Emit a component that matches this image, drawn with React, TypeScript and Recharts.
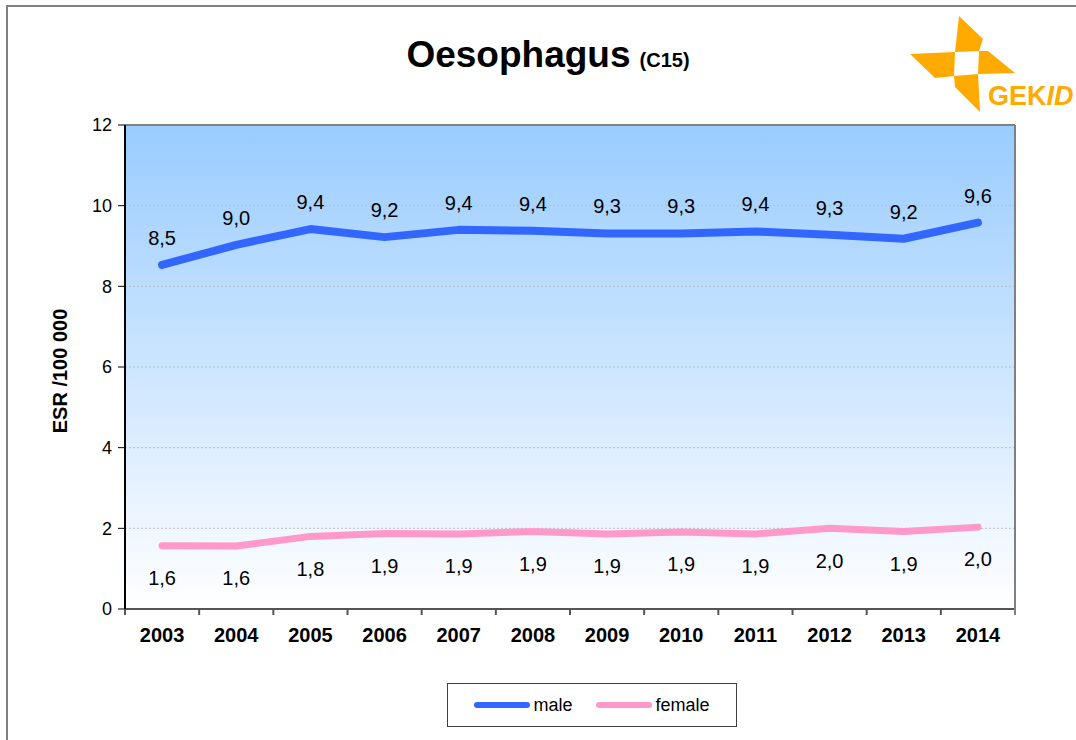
import { CartesianGrid, LabelList, Line, LineChart, ReferenceLine, XAxis, YAxis } from 'recharts'

const years = ['2003', '2004', '2005', '2006', '2007', '2008', '2009', '2010', '2011', '2012', '2013', '2014']
const male = [8.53, 9.03, 9.42, 9.22, 9.4, 9.38, 9.31, 9.31, 9.36, 9.28, 9.18, 9.58]
const female = [1.57, 1.56, 1.8, 1.87, 1.86, 1.92, 1.86, 1.91, 1.86, 2.0, 1.92, 2.03]
const yTicks = [0, 2, 4, 6, 8, 10, 12]

const series = [
  { key: 'male', name: 'male', color: '#3366FF' },
  { key: 'female', name: 'female', color: '#FF99CC' },
]

const W = 1076
const H = 740
const margin = { top: 125, right: 61, bottom: 101, left: 65 }
const Y_AXIS_W = 60
const X_AXIS_H = 30
const PLOT_W = W - margin.left - margin.right - Y_AXIS_W
const HALF = PLOT_W / years.length / 2
const FONT = '"Liberation Sans", Arial, sans-serif'

const data = years.map((year, i) => ({ year, male: male[i], female: female[i] }))

const fmt = (v: any) => Number(v).toFixed(1).replace('.', ',')

function XTick(props: any) {
  const { x, y, payload, index } = props
  const last = index === years.length - 1
  return (
    <g>
      <line x1={x - HALF} x2={x - HALF} y1={y} y2={y + 6} stroke="#555" strokeWidth={2} />
      {last && <line x1={x + HALF} x2={x + HALF} y1={y - 484} y2={y + 6} stroke="#808080" strokeWidth={2} />}
      <text x={x} y={y + 33} textAnchor="middle" fontWeight="bold" fontSize={20} fill="#000" fontFamily={FONT}>
        {payload.value}
      </text>
    </g>
  )
}

function YLabel(props: any) {
  const vb = props.viewBox || {}
  const cx = vb.x - 5
  const cy = vb.y + vb.height / 2 + 4
  return (
    <text
      x={cx}
      y={cy}
      transform={`rotate(-90 ${cx} ${cy})`}
      textAnchor="middle"
      dominantBaseline="central"
      fontWeight="bold"
      fontSize={20}
      fill="#000"
      fontFamily={FONT}
    >
      ESR /100 000
    </text>
  )
}

export default function App() {
  return (
    <div style={{ position: 'absolute', left: 0, top: 0, width: W, height: H, overflow: 'hidden', background: '#fff', fontFamily: FONT }}>
      <div style={{ position: 'absolute', left: 6, top: 5, width: 1200, height: 900, border: '2px solid #808080' }} />
      <div style={{ position: 'absolute', left: 0, top: 0 }}>
        <LineChart width={W} height={H} data={data} margin={margin}>
          <defs>
            <linearGradient id="bg" x1="0" y1="0" x2="0" y2="1">
              <stop offset="0%" stopColor="#99CCFF" />
              <stop offset="100%" stopColor="#FFFFFF" />
            </linearGradient>
          </defs>
          <CartesianGrid vertical={false} fill="url(#bg)" stroke="#bcbcbc" strokeDasharray="2 2" />
          <XAxis
            dataKey="year"
            height={X_AXIS_H}
            padding={{ left: HALF, right: HALF }}
            tickSize={0}
            tickMargin={0}
            tickLine={false}
            axisLine={{ stroke: '#555', strokeWidth: 2 }}
            tick={<XTick />}
            interval={0}
          />
          <YAxis
            width={Y_AXIS_W}
            domain={[0, 12]}
            ticks={yTicks}
            tickSize={7}
            tickMargin={6}
            tickLine={{ stroke: '#000' }}
            axisLine={{ stroke: '#000', strokeWidth: 2 }}
            tick={{ fontSize: 18, fill: '#000', fontFamily: FONT }}
            label={<YLabel />}
          />
          <ReferenceLine y={12} stroke="#808080" strokeWidth={2} />
          <Line
            type="linear"
            dataKey="male"
            stroke={series[0].color}
            strokeWidth={8}
            strokeLinecap="round"
            strokeLinejoin="round"
            dot={false}
            isAnimationActive={false}
          >
            <LabelList dataKey="male" position="top" offset={20} formatter={fmt} fontSize={20} fill="#000" fontFamily={FONT} />
          </Line>
          <Line
            type="linear"
            dataKey="female"
            stroke={series[1].color}
            strokeWidth={7}
            strokeLinecap="round"
            strokeLinejoin="round"
            dot={false}
            isAnimationActive={false}
          >
            <LabelList dataKey="female" position="bottom" offset={25} formatter={fmt} fontSize={20} fill="#000" fontFamily={FONT} />
          </Line>
        </LineChart>
      </div>

      <svg width={W} height={H} style={{ position: 'absolute', left: 0, top: 0, pointerEvents: 'none' }}>
        <text x={548} y={67} textAnchor="middle" fontFamily={FONT} fontWeight="bold" fill="#000">
          <tspan fontSize={37}>Oesophagus</tspan>
          <tspan fontSize={20} dx={9}>(C15)</tspan>
        </text>
        <g fill="#FFAA00">
          <polygon points="959,16 983,39 979,51 955,52" />
          <polygon points="910,54 955,52 954,76 935,78" />
          <polygon points="979,51 988,51 1015,73 978,74" />
          <polygon points="954,76 978,74 980,112 955,87" />
          <text x={988} y={105} fontSize={27} fontWeight="bold" fontFamily={FONT}>
            GEK<tspan fontStyle="italic">ID</tspan>
          </text>
        </g>
      </svg>

      <div
        style={{
          position: 'absolute',
          left: 447,
          top: 683,
          width: 290,
          height: 44,
          boxSizing: 'border-box',
          border: '1px solid #404040',
          display: 'flex',
          alignItems: 'center',
          justifyContent: 'center',
          gap: 24,
          fontSize: 18,
          color: '#000',
        }}
      >
        {series.map((s) => (
          <div key={s.key} style={{ display: 'flex', alignItems: 'center' }}>
            <span style={{ display: 'inline-block', width: 56, height: 6, borderRadius: 3, background: s.color, marginRight: 3 }} />
            <span>{s.name}</span>
          </div>
        ))}
      </div>
    </div>
  )
}
